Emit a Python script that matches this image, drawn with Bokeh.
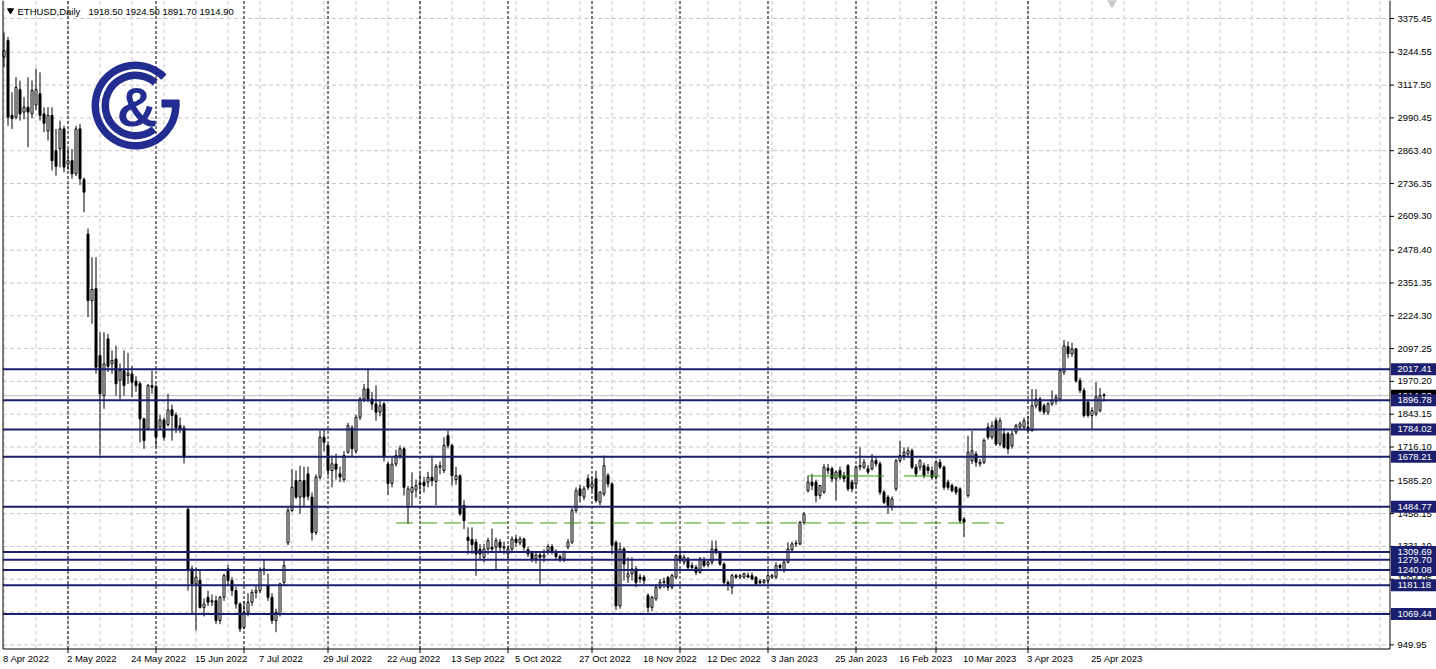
import math
from datetime import datetime
import pandas as pd
from bokeh.plotting import figure
from bokeh.models import ColumnDataSource, Range1d
from bokeh.core.properties import value
from bokeh.embed import file_html
from bokeh.resources import INLINE

# ---------------- data ----------------
first_day = "2022-04-08"   # daily bars, weekdays only

opens = [
    3226, 3290, 3000, 2993, 3100, 3013, 3032, 3006, 3040, 3084,
    3006, 2940, 3000, 2864, 2871, 2948, 2812, 2825, 2774, 2948,
    2752, 2541, 2283, 2329, 2070, 1915, 2135, 2038, 2057, 1975,
    2012, 1993, 1999, 1971, 1961, 1825, 1786, 1954, 1950, 1793,
    1821, 1803, 1860, 1840, 1799, 1790, 1475, 1244, 1186, 1199,
    1095, 1134, 1115, 1121, 1044, 1134, 1244, 1199, 1160, 1108,
    1018, 1076, 1115, 1153, 1160, 1237, 1179, 1134, 1044, 1070,
    1192, 1345, 1470, 1586, 1522, 1586, 1612, 1522, 1385, 1599,
    1754, 1722, 1625, 1650, 1612, 1590, 1696, 1790, 1700, 1831,
    1902, 1941, 1902, 1883, 1851, 1883, 1650, 1575, 1650, 1683,
    1709, 1483, 1541, 1550, 1577, 1580, 1580, 1599, 1583, 1638,
    1625, 1760, 1722, 1590, 1605, 1490, 1367, 1358, 1348, 1321,
    1289, 1321, 1328, 1328, 1348, 1325, 1302, 1321, 1360, 1345,
    1360, 1318, 1305, 1283, 1298, 1290, 1315, 1331, 1312, 1292,
    1283, 1328, 1348, 1470, 1554, 1522, 1593, 1560, 1593, 1502,
    1534, 1606, 1573, 1347, 1101, 1321, 1212, 1225, 1244, 1212,
    1212, 1141, 1095, 1128, 1173, 1192, 1212, 1173, 1212, 1295,
    1270, 1283, 1257, 1250, 1231, 1276, 1260, 1270, 1321, 1308,
    1263, 1192, 1173, 1218, 1212, 1212, 1218, 1218, 1212, 1196,
    1192, 1199, 1212, 1212, 1257, 1237, 1270, 1318, 1341, 1341,
    1424, 1547, 1580, 1580, 1528, 1541, 1634, 1632, 1593, 1625,
    1605, 1644, 1580, 1573, 1638, 1638, 1632, 1632, 1663, 1651,
    1541, 1522, 1483, 1554, 1663, 1683, 1689, 1702, 1638, 1638,
    1644, 1638, 1625, 1599, 1657, 1638, 1580, 1567, 1560, 1554,
    1437, 1528, 1663, 1689, 1651, 1657, 1793, 1754, 1818, 1728,
    1767, 1767, 1721, 1774, 1793, 1793, 1793, 1780, 1876, 1902,
    1876, 1851, 1883, 1893, 1902, 2006, 2105, 2077, 2096, 1973,
    1935, 1890, 1838, 1845, 1857, 1918.5,
]
highs = [
    3321, 3304, 3090, 3148, 3135, 3071, 3148, 3135, 3181, 3167,
    3032, 3032, 3032, 2948, 2980, 2960, 2870, 2870, 2960, 2967,
    2760, 2562, 2451, 2451, 2160, 2160, 2154, 2090, 2109, 2040,
    2090, 2080, 2030, 1990, 1970, 1830, 1960, 2012, 1958, 1840,
    1830, 1922, 1880, 1850, 1830, 1800, 1483, 1257, 1250, 1240,
    1130, 1160, 1145, 1140, 1140, 1225, 1260, 1212, 1175, 1115,
    1120, 1150, 1165, 1180, 1250, 1283, 1225, 1150, 1090, 1190,
    1283, 1480, 1631, 1625, 1644, 1640, 1640, 1540, 1610, 1780,
    1780, 1730, 1683, 1690, 1640, 1700, 1810, 1800, 1840, 1910,
    1960, 2019, 1930, 1955, 1900, 1890, 1660, 1675, 1705, 1722,
    1715, 1565, 1618, 1590, 1612, 1600, 1620, 1683, 1650, 1660,
    1754, 1780, 1728, 1640, 1610, 1510, 1405, 1405, 1360, 1340,
    1340, 1365, 1400, 1365, 1360, 1350, 1335, 1370, 1375, 1370,
    1365, 1330, 1315, 1310, 1310, 1320, 1340, 1340, 1320, 1300,
    1315, 1360, 1480, 1560, 1570, 1565, 1610, 1600, 1625, 1545,
    1683, 1615, 1580, 1354, 1347, 1330, 1289, 1289, 1255, 1225,
    1220, 1150, 1140, 1185, 1205, 1210, 1215, 1225, 1300, 1321,
    1300, 1290, 1270, 1260, 1290, 1290, 1280, 1354, 1354, 1315,
    1270, 1200, 1225, 1225, 1225, 1230, 1230, 1230, 1215, 1205,
    1205, 1225, 1225, 1270, 1265, 1280, 1347, 1350, 1355, 1430,
    1464, 1605, 1612, 1590, 1570, 1651, 1650, 1640, 1625, 1640,
    1620, 1650, 1590, 1645, 1715, 1670, 1645, 1689, 1675, 1660,
    1550, 1530, 1525, 1670, 1741, 1715, 1715, 1710, 1650, 1670,
    1655, 1650, 1640, 1665, 1670, 1645, 1590, 1575, 1565, 1560,
    1445, 1760, 1780, 1700, 1670, 1750, 1810, 1815, 1830, 1830,
    1790, 1775, 1780, 1806, 1815, 1830, 1835, 1940, 1940, 1910,
    1885, 1890, 1935, 1920, 2020, 2131, 2125, 2120, 2100, 1985,
    1945, 1900, 1870, 1967, 1945, 1924.5,
]
lows = [
    3187, 2960, 2948, 2985, 2980, 2985, 2877, 2990, 3020, 2980,
    2935, 2903, 2787, 2767, 2799, 2780, 2790, 2755, 2765, 2730,
    2625, 2219, 2194, 2000, 1683, 1864, 2006, 2000, 1915, 1902,
    1915, 1960, 1909, 1930, 1734, 1709, 1780, 1922, 1715, 1780,
    1740, 1795, 1741, 1770, 1770, 1652, 1160, 1070, 1005, 1090,
    1060, 1100, 1100, 1030, 1030, 1120, 1180, 1140, 1090, 999,
    1010, 1060, 1100, 1130, 1150, 1220, 1120, 1030, 999, 1060,
    1180, 1335, 1465, 1515, 1457, 1483, 1510, 1354, 1375, 1590,
    1700, 1605, 1560, 1590, 1580, 1580, 1690, 1680, 1690, 1820,
    1890, 1890, 1860, 1818, 1835, 1660, 1530, 1560, 1640, 1670,
    1528, 1418, 1483, 1520, 1534, 1540, 1560, 1565, 1490, 1610,
    1615, 1710, 1567, 1570, 1450, 1398, 1300, 1302, 1218, 1280,
    1270, 1300, 1310, 1244, 1310, 1300, 1285, 1310, 1330, 1335,
    1315, 1290, 1270, 1265, 1186, 1270, 1300, 1300, 1280, 1270,
    1270, 1320, 1340, 1460, 1500, 1510, 1550, 1545, 1500, 1490,
    1525, 1560, 1300, 1085, 1090, 1199, 1190, 1199, 1173, 1190,
    1186, 1076, 1080, 1120, 1165, 1170, 1160, 1165, 1205, 1270,
    1260, 1240, 1240, 1220, 1225, 1250, 1250, 1260, 1300, 1255,
    1180, 1160, 1147, 1205, 1205, 1205, 1210, 1200, 1180, 1185,
    1185, 1190, 1205, 1205, 1240, 1230, 1265, 1310, 1330, 1335,
    1415, 1540, 1550, 1502, 1515, 1535, 1610, 1580, 1509, 1590,
    1580, 1545, 1540, 1560, 1625, 1630, 1610, 1625, 1640, 1530,
    1495, 1457, 1470, 1545, 1655, 1665, 1675, 1630, 1600, 1625,
    1595, 1610, 1590, 1590, 1630, 1550, 1550, 1540, 1530, 1420,
    1367, 1520, 1650, 1640, 1640, 1650, 1745, 1745, 1720, 1720,
    1710, 1689, 1710, 1765, 1785, 1785, 1775, 1775, 1865, 1850,
    1840, 1840, 1875, 1880, 1895, 1995, 2060, 2065, 1965, 1925,
    1830, 1830, 1787, 1835, 1850, 1891.7,
]
closes = [
    3251, 2993, 2988, 3109, 3006, 3032, 3013, 3097, 3100, 3000,
    2970, 3000, 2825, 2803, 2948, 2800, 2825, 2774, 2948, 2755,
    2703, 2283, 2326, 2025, 1922, 2038, 2029, 2051, 1961, 2012,
    1954, 2002, 1967, 1954, 1825, 1741, 1954, 1947, 1754, 1821,
    1754, 1860, 1838, 1790, 1786, 1676, 1237, 1186, 1212, 1095,
    1108, 1115, 1121, 1044, 1134, 1218, 1199, 1160, 1108, 1012,
    1076, 1115, 1153, 1160, 1237, 1244, 1134, 1044, 1076, 1186,
    1257, 1470, 1560, 1522, 1586, 1522, 1525, 1385, 1599, 1754,
    1735, 1625, 1651, 1630, 1600, 1683, 1799, 1709, 1831, 1902,
    1941, 1902, 1883, 1851, 1876, 1676, 1575, 1650, 1683, 1709,
    1560, 1554, 1560, 1567, 1570, 1567, 1599, 1586, 1640, 1644,
    1722, 1722, 1605, 1605, 1457, 1431, 1354, 1338, 1302, 1302,
    1321, 1354, 1321, 1354, 1328, 1330, 1321, 1360, 1347, 1360,
    1328, 1302, 1282, 1298, 1289, 1298, 1331, 1312, 1292, 1283,
    1310, 1348, 1470, 1547, 1528, 1554, 1560, 1573, 1509, 1541,
    1644, 1573, 1335, 1101, 1321, 1263, 1225, 1244, 1192, 1205,
    1199, 1095, 1134, 1173, 1192, 1195, 1173, 1218, 1295, 1276,
    1289, 1250, 1250, 1231, 1283, 1257, 1270, 1321, 1308, 1263,
    1192, 1180, 1218, 1212, 1218, 1225, 1212, 1205, 1186, 1190,
    1199, 1218, 1218, 1257, 1250, 1270, 1321, 1341, 1344, 1424,
    1457, 1580, 1567, 1528, 1567, 1638, 1625, 1593, 1619, 1599,
    1593, 1554, 1554, 1638, 1644, 1657, 1619, 1663, 1651, 1541,
    1502, 1489, 1515, 1663, 1683, 1696, 1702, 1638, 1612, 1663,
    1606, 1625, 1599, 1657, 1638, 1560, 1560, 1547, 1541, 1431,
    1425, 1696, 1702, 1657, 1657, 1741, 1754, 1799, 1728, 1818,
    1715, 1709, 1767, 1799, 1806, 1818, 1780, 1876, 1902, 1857,
    1851, 1883, 1896, 1909, 2012, 2108, 2077, 2096, 1973, 1935,
    1838, 1838, 1857, 1910, 1915, 1914.9,
]

symbol_text = "ETHUSD,Daily"
last_ohlc = ["1918.50", "1924.50", "1891.70", "1914.90"]
bid_price = 1914.90
level_prices = [2017.41, 1896.78, 1784.02, 1678.21, 1484.77,
                1309.69, 1279.70, 1240.08, 1181.18, 1069.44]
price_ticks = [3375.45, 3244.55, 3117.50, 2990.45, 2863.40, 2736.35, 2609.30,
               2478.40, 2351.35, 2224.30, 2097.25, 1970.20, 1843.15, 1716.10,
               1585.20, 1458.15, 1331.10, 1204.05, 1077.00, 949.95]
date_labels = ["8 Apr 2022", "2 May 2022", "24 May 2022", "15 Jun 2022", "7 Jul 2022",
               "29 Jul 2022", "22 Aug 2022", "13 Sep 2022", "5 Oct 2022", "27 Oct 2022",
               "18 Nov 2022", "12 Dec 2022", "3 Jan 2023", "25 Jan 2023", "16 Feb 2023",
               "10 Mar 2023", "3 Apr 2023", "25 Apr 2023"]
green_dashed = {"price": 1422, "start": "2022-08-24", "end": "2023-03-24"}
green_solid_price = 1604
green_solid_spans = [("2023-01-16", "2023-02-10"), ("2023-02-17", "2023-03-02")]

# ---------------- layout / style ----------------
NAVY = "#1b1f6e"
LOGO = "#232c91"
GREEN = "#3f9a10"
GRID = "#c6c6c6"
FONT = "Liberation Sans"
FS = "9.5px"

W, H = 1436, 669
BAR_PX = 4.0          # pixels per daily bar
BAR0_PX = 3.5         # page x of the first bar
PRICE_PER_PX = 3.8724
REF_PRICE, REF_PY = 3375.45, 18.0


def X(px):  # page x -> bar coordinate
    return (px - BAR0_PX) / BAR_PX


def Y(py):  # page y -> price coordinate
    return REF_PRICE - (py - REF_PY) * PRICE_PER_PX


CL, CR, CT, CB = X(2.5), X(1389.5), Y(0), Y(648.5)   # chart area edges

n = len(closes)
dates = pd.bdate_range(first_day, periods=n)
idx_of = {d.strftime("%Y-%m-%d"): i for i, d in enumerate(dates)}
month_starts = [i for i in range(1, n) if dates[i].month != dates[i - 1].month]
grid_bars = list(range(0, int(CR) + 1, 8))

p = figure(width=W, height=H, output_backend="svg", toolbar_location=None,
           x_range=Range1d(X(0), X(W)), y_range=Range1d(Y(H), Y(0)),
           x_axis_type=None, y_axis_type=None,
           min_border=0, min_border_left=0, min_border_right=0,
           min_border_top=0, min_border_bottom=0,
           background_fill_color="white", border_fill_color="white",
           outline_line_color=None)
p.grid.visible = False

# grid
p.segment(x0=[CL] * len(price_ticks), y0=price_ticks, x1=[CR] * len(price_ticks), y1=price_ticks,
          line_color=GRID, line_dash="4 3", line_width=1)
p.segment(x0=grid_bars, y0=[CB] * len(grid_bars), x1=grid_bars, y1=[CT] * len(grid_bars),
          line_color=GRID, line_dash="4 3", line_width=1)

# month separators and their ticks
p.segment(x0=month_starts, y0=[CB] * len(month_starts), x1=month_starts, y1=[CT] * len(month_starts),
          line_color="black", line_dash="3 2", line_width=1)
p.segment(x0=month_starts, y0=[CB] * len(month_starts), x1=month_starts,
          y1=[Y(652.5)] * len(month_starts), line_color="black", line_width=1)

# bid line
p.segment(x0=[CL], y0=[bid_price], x1=[CR], y1=[bid_price], line_color="#c0c0c0", line_width=1)

# candles
xs = list(range(n))
p.segment(x0=xs, y0=lows, x1=xs, y1=highs, line_color="black", line_width=1)
up = [i for i in xs if closes[i] >= opens[i]]
dn = [i for i in xs if closes[i] < opens[i]]
src_up = ColumnDataSource(dict(x=up, top=[closes[i] for i in up], bottom=[opens[i] for i in up]))
src_dn = ColumnDataSource(dict(x=dn, top=[opens[i] for i in dn], bottom=[closes[i] for i in dn]))
p.vbar(x="x", top="top", bottom="bottom", width=0.5, source=src_up,
       fill_color="white", line_color="black", line_width=1)
p.vbar(x="x", top="top", bottom="bottom", width=0.5, source=src_dn,
       fill_color="black", line_color="black", line_width=1)

# green lines
gx0, gx1 = idx_of[green_dashed["start"]], idx_of[green_dashed["end"]]
p.line([gx0, gx1], [green_dashed["price"]] * 2, line_color=GREEN, line_width=1, line_dash="17 7")
for s, e in green_solid_spans:
    p.line([idx_of[s], idx_of[e]], [green_solid_price] * 2, line_color=GREEN, line_width=1)

# horizontal levels
p.segment(x0=[CL] * len(level_prices), y0=level_prices, x1=[CR] * len(level_prices),
          y1=level_prices, line_color=NAVY, line_width=2)

# chart border / axis lines
p.segment(x0=[CL, CL, CR], y0=[CB, CB, CB], x1=[CL, CR, CR], y1=[CT, CB, CT],
          line_color="black", line_width=1)

# price axis ticks and labels
p.segment(x0=[CR] * len(price_ticks), y0=price_ticks, x1=[X(1393.5)] * len(price_ticks),
          y1=price_ticks, line_color="black", line_width=1)
p.text(x=[X(1397)] * len(price_ticks), y=price_ticks, text=[f"{t:.2f}" for t in price_ticks],
       text_font=value(FONT), text_font_size=value(FS), text_color="black",
       text_align="left", text_baseline="middle")

# current price box (partly hidden) and level boxes
box_x = X((1390.5 + 1436) / 2)
p.rect(x=[box_x], y=[bid_price], width=45.5, height=12, width_units="screen",
       height_units="screen", fill_color="black", line_color=None)
p.text(x=[X(1397)], y=[bid_price], text=[last_ohlc[3]], text_font=value(FONT),
       text_font_size=value(FS), text_color="white", text_align="left", text_baseline="middle")
p.rect(x=[box_x] * len(level_prices), y=level_prices, width=45.5, height=12,
       width_units="screen", height_units="screen", fill_color=NAVY, line_color=None)
p.text(x=[X(1397)] * len(level_prices), y=level_prices, text=[f"{v:.2f}" for v in level_prices],
       text_font=value(FONT), text_font_size=value(FS), text_color="white",
       text_align="left", text_baseline="middle")

# date labels
label_idx = [idx_of[datetime.strptime(s, "%d %b %Y").strftime("%Y-%m-%d")] for s in date_labels]
p.text(x=label_idx, y=[Y(657.5)] * len(label_idx), text=date_labels, x_offset=-1,
       text_font=value(FONT), text_font_size=value(FS), text_color="black",
       text_align="left", text_baseline="alphabetic")

# title
p.scatter(x=[X(10)], y=[Y(10)], marker="inverted_triangle", size=6, color="black")
p.text(x=[X(17)], y=[Y(11)], text=[symbol_text], text_font=value(FONT),
       text_font_size=value(FS), text_color="black", text_align="left", text_baseline="middle")
p.text(x=[X(88)], y=[Y(11)], text=[" ".join(last_ohlc)], text_font=value(FONT),
       text_font_size=value(FS), text_color="black", text_align="left", text_baseline="middle")

# chart-shift marker at the top
p.scatter(x=[X(1111.5)], y=[Y(2)], marker="inverted_triangle", size=9, color="#c8c8c8")

# logo
cx, cy = X(135), Y(105)
p.annular_wedge(x=[cx], y=[cy], inner_radius=36.5, outer_radius=44,
                inner_radius_units="screen", outer_radius_units="screen",
                start_angle=math.radians(45), end_angle=math.radians(7),
                fill_color=LOGO, line_color=None)
p.annular_wedge(x=[cx], y=[cy], inner_radius=26.5, outer_radius=34,
                inner_radius_units="screen", outer_radius_units="screen",
                start_angle=math.radians(49), end_angle=math.radians(308),
                fill_color=LOGO, line_color=None)
p.rect(x=[X(170)], y=[Y(103)], width=18, height=8, width_units="screen",
       height_units="screen", fill_color=LOGO, line_color=None)
p.text(x=[X(136.5)], y=[Y(106)], text=["&"], text_font=value(FONT),
       text_font_style="bold", text_font_size=value("56px"), text_color=LOGO,
       text_align="center", text_baseline="middle")

open("out.html", "w").write(file_html(p, INLINE))
